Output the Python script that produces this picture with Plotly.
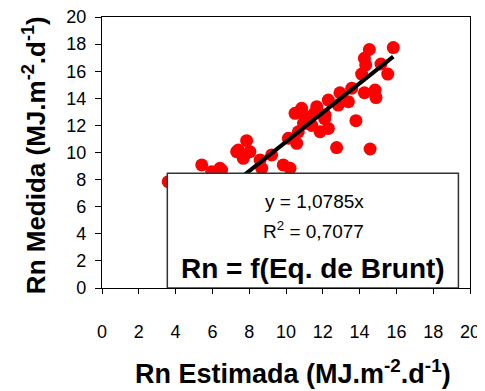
import plotly.graph_objects as go

# Data (Rn estimada, Rn medida)
x_est = [15.83, 14.53, 14.26, 14.33, 15.16, 15.53, 14.11, 14.84, 14.89, 14.26,
         13.57, 12.93, 13.39, 12.84, 12.30, 13.80, 11.67, 10.85, 10.49, 12.12,
         12.30, 11.85, 11.21, 10.67, 10.13, 10.58, 12.75, 14.57, 7.86, 7.32,
         7.68, 8.04, 8.59, 9.22, 8.68, 9.85, 10.22, 5.42, 6.50, 5.96,
         3.60, 6.41, 7.41, 11.55, 12.10, 11.40, 10.95, 11.00]
y_med = [17.74, 17.60, 16.95, 16.46, 16.53, 15.79, 15.79, 14.61, 14.05, 14.41,
         14.74, 14.41, 13.75, 13.50, 13.87, 12.35, 13.38, 13.26, 12.89, 12.77,
         11.78, 11.53, 12.15, 11.53, 11.05, 10.68, 10.36, 10.26, 10.87, 10.06,
         9.57, 10.06, 9.45, 9.82, 8.83, 9.08, 8.83, 9.08, 8.71, 8.58,
         7.85, 8.83, 10.18, 12.90, 12.50, 12.00, 12.15, 12.70]

slope = 1.0785
line_x = [min(x_est), max(x_est)]
line_y = [slope * v for v in line_x]

x_ticks = list(range(0, 21, 2))
y_ticks = list(range(0, 21, 2))

FONT = "Arial, Liberation Sans, sans-serif"

fig = go.Figure()
fig.add_trace(go.Scatter(x=x_est, y=y_med, mode="markers",
                         marker=dict(color="#ff0000", size=13, line=dict(width=0)),
                         showlegend=False, cliponaxis=False))
fig.add_trace(go.Scatter(x=line_x, y=line_y, mode="lines",
                         line=dict(color="black", width=4), showlegend=False))

fig.add_shape(type="rect", xref="x", yref="y", x0=3.55, x1=19.37, y0=0, y1=8.46,
              fillcolor="white", line=dict(color="#333333", width=1.5), layer="above")

fig.add_annotation(x=11.55, y=6.4, xref="x", yref="y", text="y = 1,0785x",
                   showarrow=False, font=dict(family=FONT, size=19, color="black"))
fig.add_annotation(x=11.5, y=4.25, xref="x", yref="y", text="R<sup>2</sup> = 0,7077",
                   showarrow=False, font=dict(family=FONT, size=19, color="black"))
fig.add_annotation(x=11.47, y=1.45, xref="x", yref="y", text="<b>Rn = f(Eq. de Brunt)</b>",
                   showarrow=False, font=dict(family=FONT, size=28, color="black"))

# Axis titles
fig.add_annotation(x=0.52, y=-0.31, xref="paper", yref="paper", xanchor="center", yanchor="middle",
                   text="<b>Rn Estimada (MJ.m<sup>-2</sup>.d<sup>-1</sup>)</b>",
                   showarrow=False, font=dict(family=FONT, size=27, color="black"))
fig.add_annotation(x=-0.185, y=0.49, xref="paper", yref="paper", xanchor="center", yanchor="middle",
                   text="<b>Rn Medida (MJ.m<sup>-2</sup>.d<sup>-1</sup>)</b>", textangle=-90,
                   showarrow=False, font=dict(family=FONT, size=26, color="black"))

# the page adds an 8px body margin, so the figure is offset by 8px
fig.update_layout(
    width=477, height=383,
    margin=dict(l=94, r=15, t=9, b=103),
    paper_bgcolor="white", plot_bgcolor="white",
    font=dict(family=FONT, size=18, color="black"),
    xaxis=dict(range=[0, 20], tickvals=x_ticks, ticks="outside", ticklen=5,
               tickcolor="black", showline=True, linecolor="black", linewidth=1.3,
               mirror=True, showgrid=False, zeroline=False, ticklabelstandoff=22,
               automargin=False, ticklabeloverflow="allow"),
    yaxis=dict(range=[0, 20], tickvals=y_ticks, ticks="outside", ticklen=6,
               tickcolor="black", showline=True, linecolor="black", linewidth=1.3,
               mirror=True, showgrid=False, zeroline=False, ticklabelstandoff=5,
               automargin=False, ticklabeloverflow="allow"),
)

fig.write_html("out.html")
